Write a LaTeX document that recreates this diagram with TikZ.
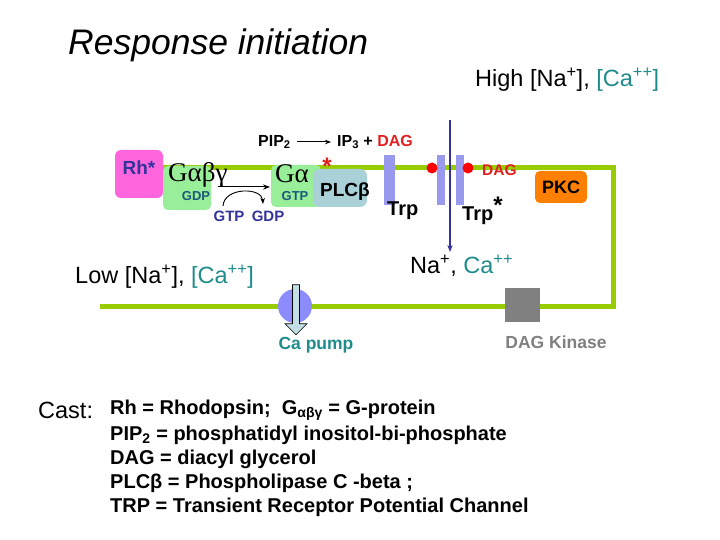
\documentclass[tikz,border=0pt]{standalone}
\usepackage{fontspec}
\setmainfont{Liberation Sans}
\newfontfamily\tms{Liberation Serif}
\usetikzlibrary{arrows.meta,shapes.arrows}
\definecolor{memb}{HTML}{99CC00}
\definecolor{navy}{HTML}{333399}
\definecolor{teal}{HTML}{1F8C8C}
\definecolor{dagred}{HTML}{E02020}
\definecolor{lav}{HTML}{9999EE}
\definecolor{gbox}{HTML}{99EE99}
\definecolor{plc}{HTML}{AAD0D8}
\definecolor{tealdk}{HTML}{1A5A7A}
\definecolor{rhpink}{HTML}{FF66DD}
\tikzset{
 fs/.style={font=\fontsize{#1}{#1}\selectfont},
 bs/.style={font=\bfseries\fontsize{#1}{#1}\selectfont},
 bar/.style={fill=lav,draw=none,minimum width=8pt,minimum height=50pt,inner sep=0},
 dot/.style={circle,fill=red,inner sep=0,minimum size=11pt},
 mem/.style={memb,line width=5pt},
 lbl/.style={inner sep=0,anchor=west},
 cast/.style={lbl,bs=20},
}
\begin{document}
\begin{tikzpicture}[x=1pt,y=-1pt]
\useasboundingbox (0,0) rectangle (720,540);
% membrane
\draw[mem] (115,168) -- (613,168) -- (613,306) -- (100,306);
% title
\node[lbl,font=\itshape\fontsize{35.5}{35.5}\selectfont] (title) at (68,45) {Response initiation};
\node[lbl,fs=23.5] (high) at (475,80) {High [Na\textsuperscript{+}], \textcolor{teal}{[Ca\textsuperscript{++}]}};
% PIP2 reaction
\node[lbl,bs=16] (pip) at (258,142) {PIP\textsubscript{2}};
\node[lbl,bs=16] (ip3) at (337,142) {IP\textsubscript{3} + \textcolor{dagred}{DAG}};
\draw[-{Stealth[length=6pt]},line width=1pt] ([xshift=6pt]pip.east) -- ([xshift=-6pt]ip3.west);
% Rh
\node[fill=rhpink,rounded corners=6pt,minimum width=48pt,minimum height=48pt,inner sep=0] (rh) at (139,174) {};
\node[bs=19,text=navy] (rht) at (139,168) {Rh*};
% G abg
\node[fill=gbox,rounded corners=5pt,minimum width=48pt,minimum height=44pt,inner sep=0] (gb) at (187,188) {};
\node[lbl,font=\tms\fontsize{27}{27}\selectfont] (gabg) at (168,175) {Gαβγ};
\node[bs=13,text=tealdk] (gdp1) at (196,196) {GDP};
% G alpha
\node[fill=gbox,rounded corners=5pt,minimum width=50pt,minimum height=42pt,inner sep=0] (ga) at (296,186) {};
\node[fill=plc,rounded corners=7pt,minimum width=54pt,minimum height=38pt,inner sep=0] (plcb) at (340,188) {};
\node[lbl,font=\tms\fontsize{27}{27}\selectfont] (gat) at (275,174) {Gα};
\node[bs=24,text=dagred] (star) at (327,166) {*};
\node[bs=13,text=tealdk] (gtp1) at (295,196) {GTP};
\node[bs=19] (plct) at (345,192) {PLCβ};
% activation arrow
\coordinate (a1) at (218,187);
\coordinate (a2) at (270,187);
\draw[-{Stealth[length=7pt]},line width=1pt] (a1) -- (a2);
\node[bs=15,text=navy] (gtp2) at (229,216) {GTP};
\node[bs=15,text=navy] (gdp2) at (268,216) {GDP};
\draw[-{Stealth[length=6pt]},line width=0.9pt] (223,206) .. controls (224,187) and (262,187) .. (263,204);
% Trp channels
\node[bar,minimum width=11pt] (trp1) at (389,180) {};
\node[lbl,bs=20] (trpt) at (387,211) {Trp};
\node[bar] (trp2) at (441,180) {};
\node[bar] (trp3) at (460,180) {};
\node[dot] (d1) at (432,168) {};
\node[dot] (d2) at (468,168) {};
\node[lbl,bs=15.5,text=dagred] (dag2) at (482,170) {DAG};
\node[lbl,bs=20] (trps) at (462,211) {Trp\textsuperscript{\fontsize{24}{24}\selectfont *}};
\coordinate (ftop) at (450,120);
\node[lbl,fs=23.5] (naca) at (410,266) {Na\textsuperscript{+}, \textcolor{teal}{Ca\textsuperscript{++}}};
\draw[navy,line width=1.2pt,-{Stealth[length=7pt]}] (ftop) -- (450,252);
% PKC
\node[fill=orange,rounded corners=5pt,minimum width=52pt,minimum height=32pt,bs=18] (pkc) at (561,187) {PKC};
% DAG kinase
\node[fill=gray,minimum width=35pt,minimum height=34pt,inner sep=0] (dk) at (522,305) {};
\node[bs=17.5,text=gray] (dkt) at (556,342) {DAG Kinase};
% low
\node[lbl,fs=23.5] (low) at (75,277) {Low [Na\textsuperscript{+}], \textcolor{teal}{[Ca\textsuperscript{++}]}};
% Ca pump
\node[circle,fill=blue!45!white,minimum size=34pt,inner sep=0] (pump) at (295,306) {};
\node[single arrow,shape border rotate=270,fill=plc!70!white,draw=black,line width=0.6pt,minimum width=22pt,single arrow head extend=5pt,minimum height=50pt,inner sep=2pt] (parr) at (296,308) {};
\node[bs=17.5,text=teal] (cap) at (316,345) {Ca pump};
% cast
\node[lbl,fs=23.5] (cast) at (38,410) {Cast:};
\node[cast] (c1) at (110,410) {Rh = Rhodopsin;\ \ G\textsubscript{αβγ} = G-protein};
\node[cast] (c2) at (110,435) {PIP\textsubscript{2} = phosphatidyl inositol-bi-phosphate};
\node[cast] (c3) at (110,459) {DAG = diacyl glycerol};
\node[cast] (c4) at (110,483) {PLCβ = Phospholipase C -beta ;};
\node[cast] (c5) at (110,507) {TRP = Transient Receptor Potential Channel};
\end{tikzpicture}
\end{document}
